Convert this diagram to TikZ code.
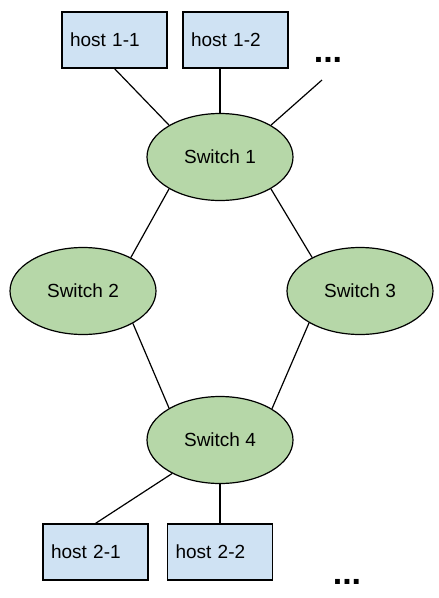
\documentclass[tikz,border=0pt]{standalone}
\usepackage{fontspec}
\setmainfont{Liberation Sans}
\usetikzlibrary{shapes.geometric}
\definecolor{hostblue}{HTML}{CFE2F3}
\definecolor{switchgreen}{HTML}{B6D7A8}
\begin{document}
\begin{tikzpicture}[x = 1pt, y = -1pt, line width = 1.2pt,
    every node/.style = {font = \fontsize{19}{22}\selectfont},
    switch/.style = {ellipse, draw, fill = switchgreen, minimum width = 146pt, minimum height = 87pt, inner sep = 0pt},
    host/.style = {rectangle, draw, fill = hostblue, text width = 89pt, align = left, inner xsep = 8pt, minimum height = 56pt},
    more/.style = {font = \fontsize{34}{38}\selectfont\bfseries, inner sep = 0pt, anchor = base}]
\useasboundingbox (0, 0) rectangle (439, 598);
\node[switch] (s1) at (220, 157) {Switch 1};
\node[switch] (s2) at (83, 291) {Switch 2};
\node[switch] (s3) at (360, 291) {Switch 3};
\node[switch] (s4) at (220, 440) {Switch 4};
\node[host] (h11) at (114.5, 40) {host 1-1};
\node[host] (h12) at (235.5, 40) {host 1-2};
\node[host] (h21) at (95.5, 552) {host 2-1};
\node[host] (h22) at (220, 552) {host 2-2};
\node[more] (more1) at (328, 62) {...};
\node[more] (more2) at (347, 584) {...};
\coordinate (free1) at (322, 80);
\draw (h11.south) -- (s1.148);
\draw (s1.north) -- (s1.north |- h12.south);
\draw (free1) -- (s1.32);
\draw (s1.212) -- (s2.35);
\draw (s1.328) -- (s3.145);
\draw (s2.327) -- (s4.148);
\draw (s3.212) -- (s4.31);
\draw (s4.215) -- (h21.north);
\draw (s4.south) -- (h22.north);
\end{tikzpicture}
\end{document}
